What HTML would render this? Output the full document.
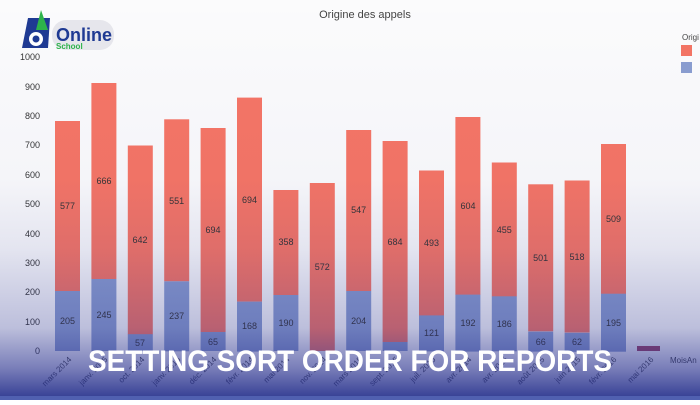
<!DOCTYPE html>
<html><head><meta charset="utf-8"><style>
body{margin:0;width:700px;height:400px;overflow:hidden;background:#fff;font-family:"Liberation Sans",sans-serif}
</style></head><body>
<svg width="700" height="400" xmlns="http://www.w3.org/2000/svg" font-family="Liberation Sans, sans-serif">
<defs>
<linearGradient id="ov" x1="0" y1="0" x2="0" y2="1">
<stop offset="0" stop-color="#2a3290" stop-opacity="0"/>
<stop offset="0.45" stop-color="#2a3290" stop-opacity="0.03"/>
<stop offset="0.62" stop-color="#2a3290" stop-opacity="0.11"/>
<stop offset="0.82" stop-color="#2a3290" stop-opacity="0.3"/>
<stop offset="0.92" stop-color="#2a3290" stop-opacity="0.62"/>
<stop offset="1" stop-color="#25308c" stop-opacity="0.95"/>
</linearGradient>
</defs>
<rect width="700" height="400" fill="#fbfbfc"/>
<text x="365" y="18" font-size="11" fill="#444" text-anchor="middle">Origine des appels</text>
<g font-size="9" fill="#333" text-anchor="end">
<text x="40" y="60">1000</text><text x="40" y="90">900</text><text x="40" y="119">800</text><text x="40" y="148">700</text><text x="40" y="178">600</text><text x="40" y="207">500</text><text x="40" y="237">400</text><text x="40" y="266">300</text><text x="40" y="295">200</text><text x="40" y="325">100</text><text x="40" y="354">0</text>
</g>
<g fill="#f67565">
<rect x="55" y="121" width="25" height="170"/>
<rect x="91.4" y="83" width="25" height="196"/>
<rect x="127.8" y="145.5" width="25" height="189"/>
<rect x="164.2" y="119.3" width="25" height="162"/>
<rect x="200.6" y="128" width="25" height="204"/>
<rect x="237" y="97.6" width="25" height="204"/>
<rect x="273.4" y="190" width="25" height="105"/>
<rect x="309.8" y="183" width="25" height="168"/>
<rect x="346.2" y="130" width="25" height="161"/>
<rect x="382.6" y="141" width="25" height="201"/>
<rect x="419" y="170.5" width="25" height="145"/>
<rect x="455.4" y="117" width="25" height="178"/>
<rect x="491.8" y="162.5" width="25" height="134"/>
<rect x="528.2" y="184.3" width="25" height="147"/>
<rect x="564.6" y="180.5" width="25" height="152"/>
<rect x="601" y="144" width="25" height="150"/>
</g>
<g fill="#8a9dd0">
<rect x="55" y="291" width="25" height="60"/>
<rect x="91.4" y="279" width="25" height="72"/>
<rect x="127.8" y="334.2" width="25" height="17"/>
<rect x="164.2" y="281.3" width="25" height="70"/>
<rect x="200.6" y="332" width="25" height="19"/>
<rect x="237" y="301.6" width="25" height="50"/>
<rect x="273.4" y="295" width="25" height="56"/>
<rect x="346.2" y="291" width="25" height="60"/>
<rect x="382.6" y="342" width="25" height="9"/>
<rect x="419" y="315.4" width="25" height="36"/>
<rect x="455.4" y="294.6" width="25" height="57"/>
<rect x="491.8" y="296.3" width="25" height="55"/>
<rect x="528.2" y="331.6" width="25" height="20"/>
<rect x="564.6" y="332.8" width="25" height="19"/>
<rect x="601" y="293.7" width="25" height="58"/>
</g>
<rect x="637" y="346" width="23" height="5" fill="#a04060"/>
<g font-size="9" fill="#333" text-anchor="middle">
<text x="67.5" y="209">577</text><text x="104" y="184">666</text><text x="140" y="243">642</text><text x="176.7" y="204">551</text><text x="213" y="233">694</text><text x="249.5" y="203">694</text><text x="286" y="245">358</text><text x="322.3" y="270">572</text><text x="358.7" y="213">547</text><text x="395" y="245">684</text><text x="431.5" y="246">493</text><text x="468" y="209">604</text><text x="504.3" y="233">455</text><text x="540.7" y="261">501</text><text x="577" y="260">518</text><text x="613.5" y="222">509</text>
<text x="67.5" y="324">205</text><text x="104" y="318">245</text><text x="140" y="346">57</text><text x="176.7" y="319">237</text><text x="213" y="345">65</text><text x="249.5" y="329">168</text><text x="286" y="326">190</text><text x="358.7" y="324">204</text><text x="431.5" y="336">121</text><text x="468" y="326">192</text><text x="504.3" y="327">186</text><text x="540.7" y="345">66</text><text x="577" y="345">62</text><text x="613.5" y="326">195</text>
</g>
<g font-size="8" fill="#444" text-anchor="end">
<text transform="translate(72,360) rotate(-45)">mars 2014</text>
<text transform="translate(108,360) rotate(-45)">janv. 2015</text>
<text transform="translate(145,360) rotate(-45)">oct. 2014</text>
<text transform="translate(181,360) rotate(-45)">janv. 2016</text>
<text transform="translate(217,360) rotate(-45)">déc. 2014</text>
<text transform="translate(254,360) rotate(-45)">févr. 2014</text>
<text transform="translate(290,360) rotate(-45)">mai 2014</text>
<text transform="translate(327,360) rotate(-45)">nov. 2014</text>
<text transform="translate(363,360) rotate(-45)">mars 2015</text>
<text transform="translate(399,360) rotate(-45)">sept. 2015</text>
<text transform="translate(436,360) rotate(-45)">juil. 2015</text>
<text transform="translate(472,360) rotate(-45)">avr. 2014</text>
<text transform="translate(508,360) rotate(-45)">avr. 2015</text>
<text transform="translate(545,360) rotate(-45)">août 2015</text>
<text transform="translate(581,360) rotate(-45)">juin 2015</text>
<text transform="translate(617,360) rotate(-45)">févr. 2016</text>
<text transform="translate(654,360) rotate(-45)">mai 2016</text>
</g>
<text x="670" y="363" font-size="8" fill="#444">MoisAn</text>
<text x="682" y="40" font-size="8" fill="#444">Origi</text>
<rect x="681" y="45" width="11" height="11" fill="#f47464"/>
<rect x="681" y="62" width="11" height="11" fill="#8a9dd0"/>
<rect width="700" height="400" fill="url(#ov)"/>
<rect x="0" y="396" width="700" height="4" fill="#5060b0"/>
<g>
<path d="M28 18 L50 18 L48 48 L22 48 Z" fill="#1f3a93"/>
<path d="M41 10 L48 30 L36 30 Z" fill="#2db34a"/>
<circle cx="36" cy="39" r="7" fill="#fff"/><circle cx="36" cy="39" r="3.5" fill="#1f3a93"/>
<rect x="52" y="20" width="62" height="30" rx="14" fill="#e6e6ec"/>
<text x="56" y="41" font-size="18" font-weight="bold" fill="#1f3a93">Online</text>
<text x="56" y="49" font-size="8" font-weight="bold" fill="#2db34a">School</text>
</g>
<text x="350" y="371" font-size="30" font-weight="bold" fill="#fff" text-anchor="middle" textLength="524" lengthAdjust="spacingAndGlyphs">SETTING SORT ORDER FOR REPORTS</text>
</svg>
</body></html>
